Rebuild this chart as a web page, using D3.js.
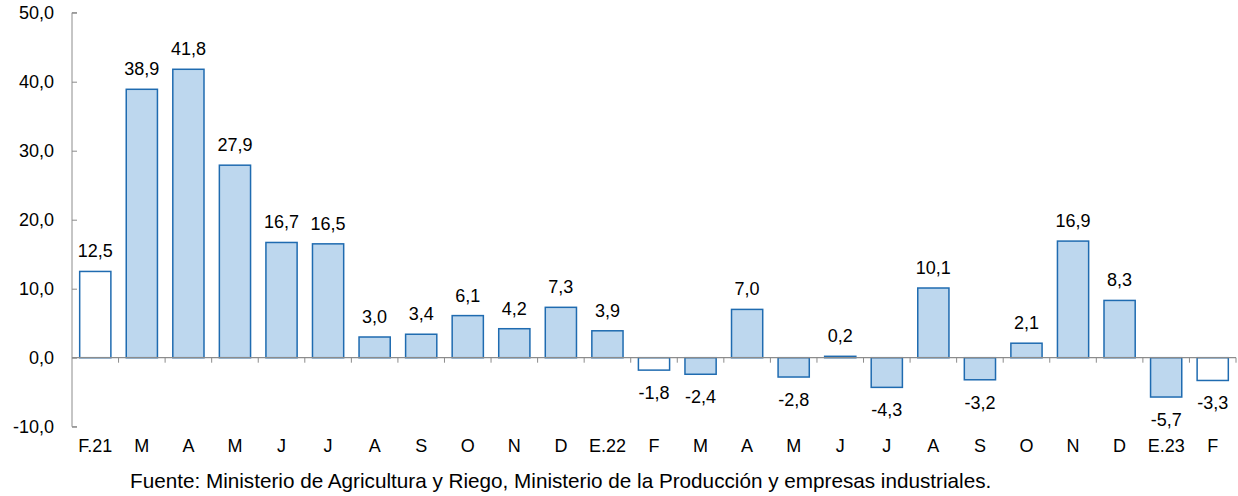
<!DOCTYPE html>
<html>
<head>
<meta charset="utf-8">
<script src="https://cdn.jsdelivr.net/npm/d3@7"></script>
<style>
  body { margin: 0; background: #fff; }
  text { font-family: "Liberation Sans", Arial, sans-serif; fill: #000; }
</style>
</head>
<body>
<div class="chart"></div>
<script>
var svgWidth = 1238;
var svgHeight = 496;

// data
var months = ["F.21", "M", "A", "M", "J", "J", "A", "S", "O", "N", "D", "E.22",
  "F", "M", "A", "M", "J", "J", "A", "S", "O", "N", "D", "E.23", "F"];
var values = [12.5, 38.9, 41.8, 27.9, 16.7, 16.5, 3.0, 3.4, 6.1, 4.2, 7.3, 3.9,
  -1.8, -2.4, 7.0, -2.8, 0.2, -4.3, 10.1, -3.2, 2.1, 16.9, 8.3, -5.7, -3.3];
// february bars are drawn hollow
var hollow = [0, 12, 24];
var yTicks = [-10, 0, 10, 20, 30, 40, 50];

var plotLeft = 72, plotRight = 1236;
var yTop = 12.7, yBottom = 426.7;

var svg = d3.select(".chart")
  .append("svg")
  .attr("width", svgWidth)
  .attr("height", svgHeight);

var x = d3.scaleBand()
  .domain(d3.range(values.length))
  .range([plotLeft, plotRight])
  .paddingInner(0.33)
  .paddingOuter(0.165);

var y = d3.scaleLinear()
  .domain([-10, 50])
  .range([yBottom, yTop]);

// comma decimals, plain hyphen for negatives
var fmt = function(v) { return d3.format(".1f")(v).replace(".", ",").replace("\u2212", "-"); };

// y axis
var yAxis = d3.axisRight(y)
  .tickValues(yTicks)
  .tickSize(5)
  .tickFormat("");
var yg = svg.append("g")
  .attr("transform", `translate(${plotLeft}, 0)`)
  .call(yAxis);
yg.select(".domain").attr("stroke", "#8c8c8c").attr("stroke-width", 1)
  .attr("d", `M5,${yTop}H0V${yBottom}H5`);
yg.selectAll(".tick line").attr("stroke", "#8c8c8c");

svg.append("g").selectAll("text")
  .data(yTicks)
  .enter()
  .append("text")
  .attr("x", 54)
  .attr("y", d => y(d) + 6.5)
  .attr("text-anchor", "end")
  .attr("font-size", "18px")
  .text(d => fmt(d));

// bars
svg.append("g").selectAll("rect")
  .data(values)
  .enter()
  .append("rect")
  .attr("x", (d, i) => x(i))
  .attr("width", x.bandwidth())
  .attr("y", d => y(Math.max(0, d)))
  .attr("height", d => Math.abs(y(d) - y(0)))
  .attr("fill", (d, i) => hollow.indexOf(i) >= 0 ? "#ffffff" : "#bdd7ee")
  .attr("stroke", "#1f6bb0")
  .attr("stroke-width", 1.5);

// zero line with category ticks below it
var step = x.step();
var xg = svg.append("g");
xg.append("line")
  .attr("x1", plotLeft).attr("x2", plotRight)
  .attr("y1", y(0)).attr("y2", y(0))
  .attr("stroke", "#8c8c8c").attr("stroke-width", 1.2);
xg.selectAll("line.tk")
  .data(d3.range(1, values.length + 1))
  .enter()
  .append("line")
  .attr("class", "tk")
  .attr("x1", d => plotLeft + d * step).attr("x2", d => plotLeft + d * step)
  .attr("y1", y(0)).attr("y2", y(0) + 5)
  .attr("stroke", "#8c8c8c");

// month labels
svg.append("g").selectAll("text")
  .data(months)
  .enter()
  .append("text")
  .attr("x", (d, i) => x(i) + x.bandwidth() / 2)
  .attr("y", 452)
  .attr("text-anchor", "middle")
  .attr("font-size", "18px")
  .text(d => d);

// value labels
svg.append("g").selectAll("text")
  .data(values)
  .enter()
  .append("text")
  .attr("x", (d, i) => x(i) + x.bandwidth() / 2)
  .attr("y", d => d >= 0 ? y(d) - 14 : y(d) + 29)
  .attr("text-anchor", "middle")
  .attr("font-size", "18px")
  .text(d => fmt(d));

// source
svg.append("text")
  .attr("x", 130)
  .attr("y", 488)
  .attr("font-size", "20.7px")
  .text("Fuente: Ministerio de Agricultura y Riego, Ministerio de la Producción y empresas industriales.");
</script>
</body>
</html>
